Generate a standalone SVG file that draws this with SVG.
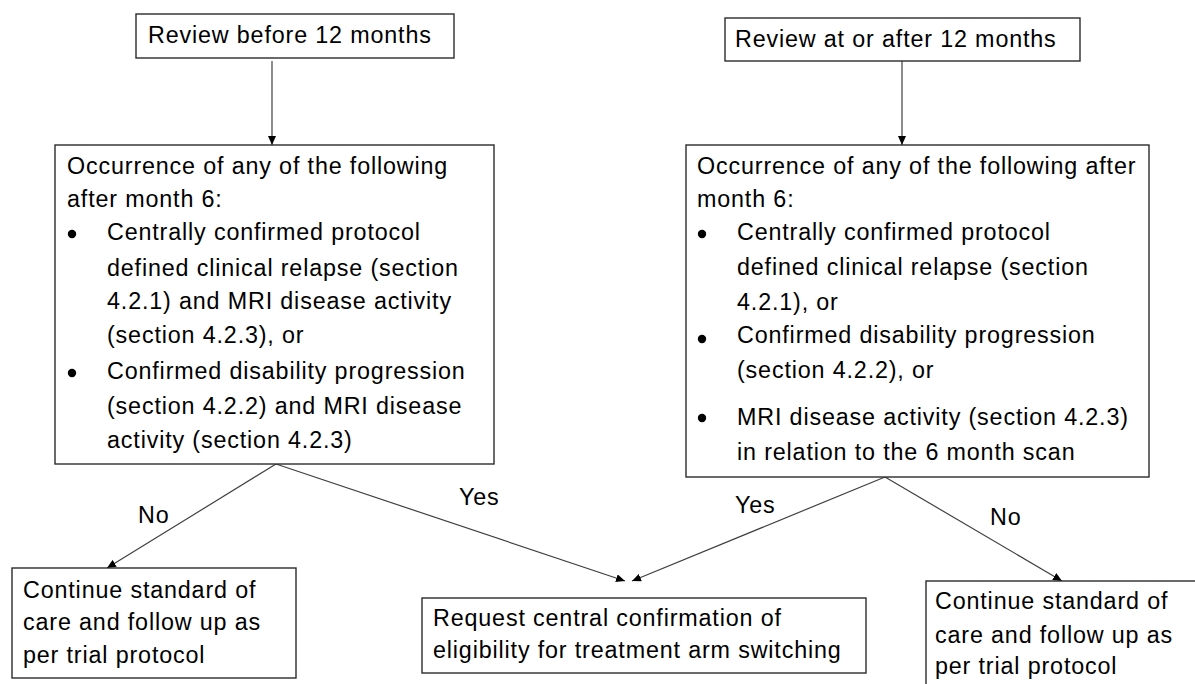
<svg xmlns="http://www.w3.org/2000/svg" width="1195" height="684" viewBox="0 0 1195 684">
<style>
.box{fill:#ffffff;stroke:#2b2b2b;stroke-width:1.4}
.t{font-family:"Liberation Sans",Arial,sans-serif;font-size:23.3px;letter-spacing:0.85px;fill:#000000}
.lbl{font-family:"Liberation Sans",Arial,sans-serif;font-size:23.3px;letter-spacing:0.85px;fill:#000000}
.c{fill:none;stroke:#404040;stroke-width:1.2;marker-end:url(#ah)}
.b{fill:#000000}
</style>
<defs>
<marker id="ah" markerUnits="userSpaceOnUse" markerWidth="10" markerHeight="8" refX="9" refY="4" orient="auto">
<path d="M0,0 L9,4 L0,8 z" fill="#000000"/>
</marker>
</defs>
<rect width="1195" height="684" fill="#ffffff"/>
<g id="connectors">
<line class="c" x1="272" y1="61" x2="272" y2="145"/>
<line class="c" x1="902" y1="61" x2="902" y2="145"/>
<line class="c" x1="276" y1="464" x2="107" y2="568"/>
<line class="c" x1="276" y1="464" x2="625" y2="581"/>
<line class="c" x1="885" y1="477" x2="632" y2="581"/>
<line class="c" x1="885" y1="477" x2="1062" y2="581"/>
<text class="lbl" x="138" y="523">No</text>
<text class="lbl" x="459" y="505">Yes</text>
<text class="lbl" x="735" y="513">Yes</text>
<text class="lbl" x="990" y="525">No</text>
</g>
<g id="review-before">
<rect class="box" x="136" y="14" width="318" height="44"/>
<text class="t" x="148" y="43">Review before 12 months</text>
</g>
<g id="review-after">
<rect class="box" x="725" y="18" width="355" height="43"/>
<text class="t" x="735" y="47">Review at or after 12 months</text>
</g>
<g id="criteria-before">
<rect class="box" x="55" y="145" width="439" height="319"/>
<text class="t" x="67" y="174">Occurrence of any of the following</text>
<text class="t" x="67" y="207">after month 6:</text>
<circle class="b" cx="72" cy="234" r="4.2"/>
<text class="t" x="107" y="240">Centrally confirmed protocol</text>
<text class="t" x="107" y="276">defined clinical relapse (section</text>
<text class="t" x="107" y="309">4.2.1) and MRI disease activity</text>
<text class="t" x="107" y="343">(section 4.2.3), or</text>
<circle class="b" cx="72" cy="373" r="4.2"/>
<text class="t" x="107" y="379">Confirmed disability progression</text>
<text class="t" x="107" y="414">(section 4.2.2) and MRI disease</text>
<text class="t" x="107" y="448">activity (section 4.2.3)</text>
</g>
<g id="criteria-after">
<rect class="box" x="686" y="145" width="463" height="332"/>
<text class="t" x="697" y="174">Occurrence of any of the following after</text>
<text class="t" x="697" y="207">month 6:</text>
<circle class="b" cx="702" cy="234" r="4.2"/>
<text class="t" x="737" y="240">Centrally confirmed protocol</text>
<text class="t" x="737" y="275">defined clinical relapse (section</text>
<text class="t" x="737" y="310">4.2.1), or</text>
<circle class="b" cx="702" cy="339" r="4.2"/>
<text class="t" x="737" y="343">Confirmed disability progression</text>
<text class="t" x="737" y="378">(section 4.2.2), or</text>
<circle class="b" cx="702" cy="418" r="4.2"/>
<text class="t" x="737" y="425">MRI disease activity (section 4.2.3)</text>
<text class="t" x="737" y="460">in relation to the 6 month scan</text>
</g>
<g id="continue-left">
<rect class="box" x="12" y="568" width="284" height="110"/>
<text class="t" x="23" y="598">Continue standard of</text>
<text class="t" x="23" y="630">care and follow up as</text>
<text class="t" x="23" y="663">per trial protocol</text>
</g>
<g id="request">
<rect class="box" x="422" y="598" width="444" height="75"/>
<text class="t" x="433" y="626">Request central confirmation of</text>
<text class="t" x="433" y="658">eligibility for treatment arm switching</text>
</g>
<g id="continue-right">
<rect class="box" x="926" y="581" width="280" height="110"/>
<text class="t" x="935" y="609">Continue standard of</text>
<text class="t" x="935" y="643">care and follow up as</text>
<text class="t" x="935" y="674">per trial protocol</text>
</g>
</svg>
